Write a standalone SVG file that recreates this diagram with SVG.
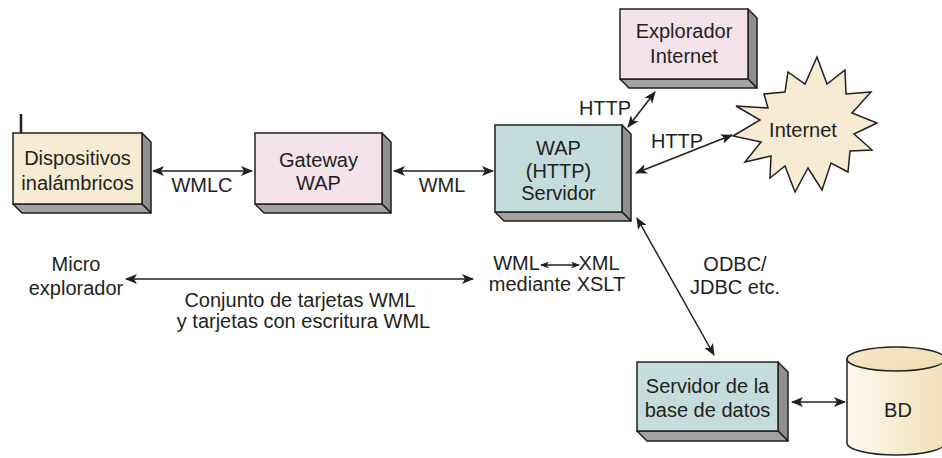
<svg xmlns="http://www.w3.org/2000/svg" width="942" height="458" viewBox="0 0 942 458">
<style>
text{font-family:"Liberation Sans",Arial,sans-serif;font-size:20px;fill:#231f20;text-anchor:middle}
.face{stroke:#231f20;stroke-width:1.5}
.side{fill:#8f8f8f;stroke:#231f20;stroke-width:1.5;stroke-linejoin:round}
.bot{fill:#a3a3a3;stroke:#231f20;stroke-width:1.5;stroke-linejoin:round}
.cream{fill:#f7ebd3}.pink{fill:#f4e3ea}.teal{fill:#c4dcdc}
.con{stroke:#231f20;stroke-width:1.5;fill:none;marker-start:url(#ah);marker-end:url(#ah)}
</style>
<defs>
<marker id="ah" viewBox="0 0 12 10" refX="11" refY="5" markerWidth="12" markerHeight="10" markerUnits="userSpaceOnUse" orient="auto-start-reverse">
<path d="M0,0 L12,5 L0,10 L3,5 z" fill="#231f20"/>
</marker>
<marker id="sah" viewBox="0 0 10 8" refX="9" refY="4" markerWidth="9" markerHeight="7" markerUnits="userSpaceOnUse" orient="auto-start-reverse">
<path d="M0,0 L10,4 L0,8 L2.5,4 z" fill="#231f20"/>
</marker>
<linearGradient id="cyl" x1="0" x2="1" y1="0" y2="0">
<stop offset="0" stop-color="#fdf9ee"/><stop offset="1" stop-color="#f1e0b6"/>
</linearGradient>
<linearGradient id="cyltop" x1="0" x2="1" y1="0" y2="1">
<stop offset="0" stop-color="#f6e9c8"/><stop offset="1" stop-color="#efdcb0"/>
</linearGradient>
</defs>

<g id="dispositivos">
<line x1="21" y1="114" x2="21" y2="133" stroke="#231f20" stroke-width="2.5"/>
<polygon class="side" points="142,133 151,142 151,213 142,204"/>
<polygon class="bot" points="13,204 142,204 151,213 22,213"/>
<rect class="face cream" x="13" y="133" width="129" height="71"/>
<text x="77.5" y="165">Dispositivos</text>
<text x="77.5" y="190">inalámbricos</text>
</g>

<g id="gateway">
<polygon class="side" points="382,133 391,142 391,213 382,204"/>
<polygon class="bot" points="255,204 382,204 391,213 264,213"/>
<rect class="face pink" x="255" y="133" width="127" height="71"/>
<text x="318.5" y="167">Gateway</text>
<text x="318.5" y="190">WAP</text>
</g>

<g id="servidor-wap">
<polygon class="side" points="622,125 631,134 631,221 622,212"/>
<polygon class="bot" points="495,212 622,212 631,221 504,221"/>
<rect class="face teal" x="495" y="125" width="127" height="87"/>
<text x="558.5" y="155">WAP</text>
<text x="558.5" y="178">(HTTP)</text>
<text x="558.5" y="200">Servidor</text>
</g>

<g id="explorador">
<polygon class="side" points="748,9 757,18 757,88 748,79"/>
<polygon class="bot" points="620,79 748,79 757,88 629,88"/>
<rect class="face pink" x="620" y="9" width="128" height="70"/>
<text x="684" y="38">Explorador</text>
<text x="684" y="63">Internet</text>
</g>

<g id="internet">
<polygon points="817,57 827,84 845,70 846,94 871,92 852,113 877,123 854,134 872,150 850,151 848,172 831,163 822,190 808,168 795,192 785,166 770,178 771,156 745,162 761,142 733,136 760,120 736,106 768,108 764,94 785,92 788,72 805,84" fill="#f7ebd3" stroke="#231f20" stroke-width="1.5" stroke-linejoin="miter"/>
<text x="803" y="137">Internet</text>
</g>

<g id="servidor-bd">
<polygon class="side" points="778,362 788,372 788,441 778,431"/>
<polygon class="bot" points="637,431 778,431 788,441 647,441"/>
<rect class="face teal" x="637" y="362" width="141" height="69"/>
<text x="707.5" y="393">Servidor de la</text>
<text x="707.5" y="417">base de datos</text>
</g>

<g id="bd">
<path d="M847,359 L847,443 A49,12 0 0 0 945,443 L945,359 Z" fill="url(#cyl)" stroke="#231f20" stroke-width="1.5"/>
<ellipse cx="896" cy="359" rx="49" ry="12" fill="url(#cyltop)" stroke="#231f20" stroke-width="1.5"/>
<text x="898" y="417">BD</text>
</g>

<g id="micro-explorador">
<text x="76" y="271">Micro</text>
<text x="76" y="295">explorador</text>
</g>

<g id="connectors">
<line class="con" x1="153" y1="171" x2="252" y2="171"/>
<line class="con" x1="394" y1="171" x2="493" y2="171"/>
<line class="con" x1="628" y1="127" x2="655" y2="92"/>
<line class="con" x1="636" y1="173" x2="732" y2="135"/>
<line class="con" x1="637" y1="218" x2="714" y2="355"/>
<line class="con" x1="792" y1="402" x2="845" y2="402"/>
<line class="con" x1="126" y1="279" x2="473" y2="279"/>
<line x1="541" y1="265" x2="579" y2="265" stroke="#231f20" stroke-width="1.5" marker-start="url(#sah)" marker-end="url(#sah)"/>
</g>

<g id="labels">
<text x="202" y="192">WMLC</text>
<text x="442" y="192">WML</text>
<text x="605" y="115">HTTP</text>
<text x="677" y="148">HTTP</text>
<text x="300" y="307">Conjunto de tarjetas WML</text>
<text x="303.5" y="328">y tarjetas con escritura WML</text>
<text x="516.5" y="270">WML</text>
<text x="599" y="270">XML</text>
<text x="557" y="291">mediante XSLT</text>
<text x="735" y="271">ODBC/</text>
<text x="735" y="294">JDBC etc.</text>
</g>
</svg>
